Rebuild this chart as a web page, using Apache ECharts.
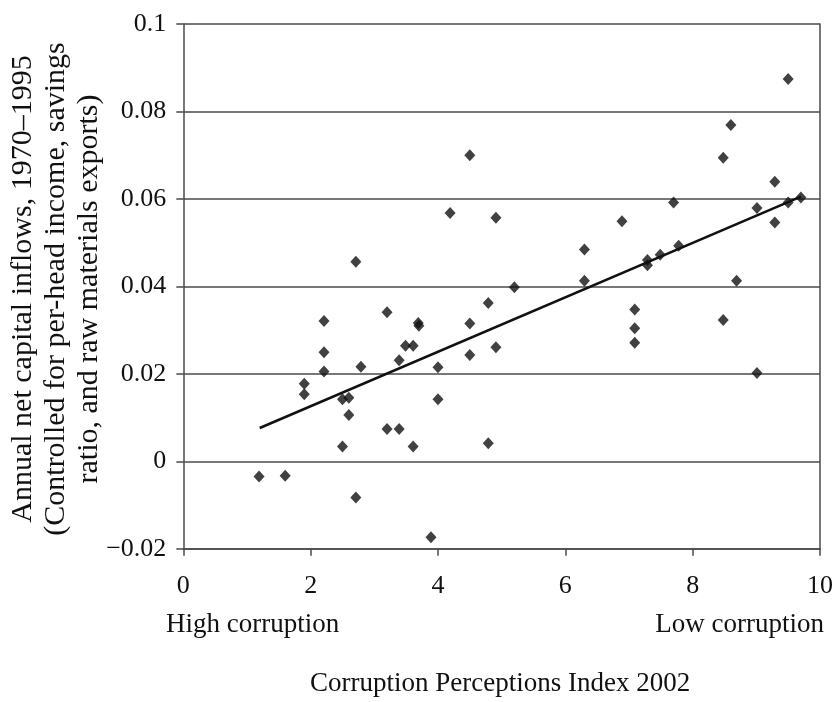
<!DOCTYPE html>
<html>
<head>
<meta charset="utf-8">
<title>Corruption and capital inflows</title>
<script src="https://cdn.jsdelivr.net/npm/echarts@6/dist/echarts.min.js"></script>
<style>
  html, body { margin: 0; padding: 0; background: #fff; }
  #chart { width: 836px; height: 702px; }
</style>
</head>
<body>
<div id="chart"></div>
<script>
// Corruption Perceptions Index 2002 (x) vs. net capital inflows (y)
const cpi = [
  1.19, 1.60, 1.90, 1.90, 2.21, 2.21, 2.21, 2.71, 2.50, 2.60,
  2.60, 2.50, 2.71, 2.79, 3.20, 3.20, 3.39, 3.39, 3.49, 3.61,
  3.61, 3.69, 3.70, 3.89, 4.00, 4.00, 4.19, 4.50, 4.50, 4.50,
  4.79, 4.79, 4.91, 4.91, 5.20, 6.30, 6.30, 6.89, 7.09, 7.09,
  7.09, 7.29, 7.29, 7.49, 7.78, 7.70, 8.48, 8.48, 8.60, 8.69,
  9.01, 9.01, 9.29, 9.29, 9.50, 9.50, 9.70
];
const inflows = [
  -0.0035, -0.0033, 0.0177, 0.0153, 0.0321, 0.0249, 0.0205, 0.0456, 0.0142, 0.0145,
  0.0106, 0.0034, -0.0083, 0.0216, 0.0341, 0.0074, 0.0074, 0.0231, 0.0264, 0.0264,
  0.0034, 0.0316, 0.0310, -0.0174, 0.0215, 0.0142, 0.0568, 0.0700, 0.0315, 0.0243,
  0.0362, 0.0041, 0.0557, 0.0261, 0.0398, 0.0484, 0.0413, 0.0549, 0.0347, 0.0304,
  0.0271, 0.0460, 0.0448, 0.0472, 0.0493, 0.0592, 0.0694, 0.0323, 0.0769, 0.0413,
  0.0579, 0.0202, 0.0639, 0.0546, 0.0874, 0.0592, 0.0603
];
// fitted line end points
const fitX = [1.2, 9.7];
const fitY = [0.0076, 0.0605];

const xTicks = [0, 2, 4, 6, 8, 10];
const yTicks = [-0.02, 0, 0.02, 0.04, 0.06, 0.08, 0.1];

const yName = "Annual net capital inflows, 1970\u20131995\n(Controlled for per-head income, savings\nratio, and raw materials exports)";

const font = "'Liberation Serif', 'DejaVu Serif', serif";
const lineColor = "#4a4a4a";

const points = cpi.map((x, i) => [x, inflows[i]]);
const fitLine = fitX.map((x, i) => [x, fitY[i]]);

const chart = echarts.init(document.getElementById("chart"));
chart.setOption({
  animation: false,
  textStyle: { fontFamily: font, color: "#111" },
  grid: { left: 183.3, right: 16, top: 24, bottom: 153.3, outerBoundsMode: "none", containLabel: false },
  xAxis: {
    type: "value",
    min: xTicks[0],
    max: xTicks[xTicks.length - 1],
    interval: 2,
    axisLine: { show: true, onZero: false, lineStyle: { color: lineColor, width: 1.5 } },
    axisTick: { show: true, inside: false, length: 7, lineStyle: { color: lineColor, width: 1.5 } },
    splitLine: { show: false },
    axisLabel: { margin: 24, fontSize: 26, fontFamily: font, color: "#111" },
  },
  yAxis: [
    {
      type: "value",
      min: yTicks[0],
      max: yTicks[yTicks.length - 1],
      interval: 0.02,
      axisLine: { show: true, lineStyle: { color: lineColor, width: 1.5 } },
      axisTick: { show: true, inside: false, length: 7, lineStyle: { color: lineColor, width: 1.5 } },
      splitLine: { show: true, lineStyle: { color: lineColor, width: 1.5 } },
      axisLabel: {
        margin: 17,
        fontSize: 26,
        fontFamily: font,
        color: "#111",
        formatter: (v) => {
          let s = String(parseFloat(v.toFixed(2)));
          return s.replace("-", "\u2212");
        },
      },
    },
    {
      // right border of the box
      type: "value",
      position: "right",
      min: yTicks[0],
      max: yTicks[yTicks.length - 1],
      interval: 0.02,
      axisLine: { show: true, lineStyle: { color: lineColor, width: 1.5 } },
      axisTick: { show: false },
      axisLabel: { show: false },
      splitLine: { show: false },
    },
  ],
  graphic: [
    {
      // y axis title, three lines, rotated
      type: "text",
      x: 56,
      y: 289,
      rotation: Math.PI / 2,
      style: {
        text: yName,
        font: "30px " + font,
        fill: "#111",
        align: "center",
        verticalAlign: "middle",
        lineHeight: 33,
      },
    },
    {
      type: "text",
      left: 166,
      top: 611,
      style: { text: "High corruption", font: "27px " + font, fill: "#111" },
    },
    {
      type: "text",
      right: 12,
      top: 611,
      style: { text: "Low corruption", font: "27px " + font, fill: "#111" },
    },
    {
      type: "text",
      left: 310,
      top: 670,
      style: { text: "Corruption Perceptions Index 2002", font: "27px " + font, fill: "#111" },
    },
  ],
  series: [
    {
      type: "scatter",
      data: points,
      symbol: "diamond",
      symbolSize: [11, 12],
      itemStyle: { color: "#111" },
      z: 3,
    },
    {
      type: "line",
      data: fitLine,
      showSymbol: false,
      symbol: "none",
      lineStyle: { color: "#111", width: 2.5 },
      z: 4,
    },
  ],
});
</script>
</body>
</html>
